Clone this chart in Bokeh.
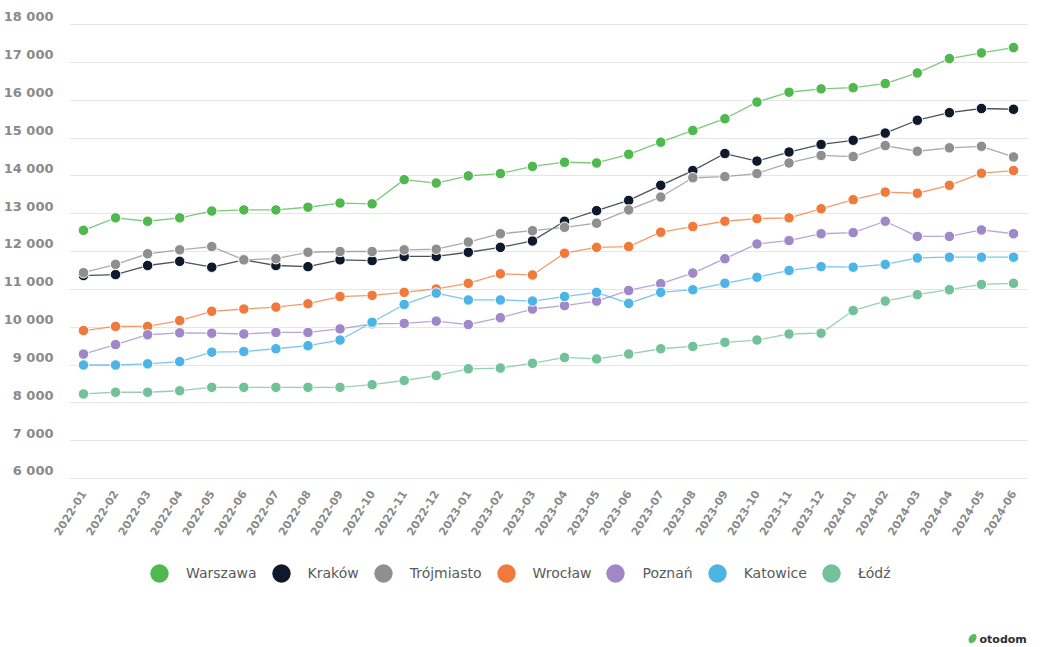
import math
from bokeh.plotting import figure
from bokeh.layouts import column
from bokeh.models import FixedTicker, Legend, LegendItem, Label, Range1d
from bokeh.embed import file_html
from bokeh.resources import INLINE

# ---------------- data ----------------
months = ["2022-01", "2022-02", "2022-03", "2022-04", "2022-05", "2022-06",
          "2022-07", "2022-08", "2022-09", "2022-10", "2022-11", "2022-12",
          "2023-01", "2023-02", "2023-03", "2023-04", "2023-05", "2023-06",
          "2023-07", "2023-08", "2023-09", "2023-10", "2023-11", "2023-12",
          "2024-01", "2024-02", "2024-03", "2024-04", "2024-05", "2024-06"]

warszawa = [12560, 12890, 12800, 12890, 13070, 13100, 13100, 13170, 13280, 13260,
            13900, 13810, 14000, 14060, 14250, 14360, 14340, 14570, 14890, 15200,
            15510, 15950, 16210, 16300, 16330, 16440, 16720, 17100, 17250, 17390]
krakow = [11365, 11390, 11630, 11740, 11585, 11780, 11630, 11600, 11780, 11760,
          11870, 11870, 11980, 12110, 12280, 12800, 13080, 13350, 13750, 14140,
          14590, 14390, 14630, 14830, 14940, 15130, 15470, 15670, 15780, 15760]
trojmiasto = [11440, 11660, 11940, 12045, 12130, 11780, 11810, 11980, 12000, 12000,
              12045, 12060, 12250, 12470, 12550, 12640, 12750, 13100, 13440, 13950,
              13980, 14060, 14340, 14540, 14510, 14800, 14650, 14740, 14780, 14500]
wroclaw = [9910, 10020, 10020, 10175, 10420, 10480, 10530, 10620, 10810, 10840,
           10920, 11010, 11160, 11410, 11380, 11955, 12110, 12130, 12510, 12660,
           12800, 12870, 12890, 13130, 13370, 13570, 13540, 13750, 14070, 14140]
poznan = [9290, 9540, 9800, 9850, 9840, 9820, 9860, 9860, 9955, 10090,
          10100, 10160, 10070, 10250, 10480, 10570, 10690, 10970, 11150, 11430,
          11810, 12200, 12290, 12470, 12500, 12800, 12400, 12400, 12570, 12470]
katowice = [9000, 9000, 9030, 9090, 9340, 9355, 9430, 9510, 9660, 10130,
            10600, 10900, 10720, 10720, 10690, 10810, 10920, 10630, 10920, 10990,
            11160, 11320, 11500, 11600, 11585, 11660, 11830, 11850, 11850, 11850]
lodz = [8235, 8280, 8280, 8320, 8410, 8410, 8410, 8410, 8410, 8480,
        8590, 8720, 8900, 8920, 9045, 9200, 9160, 9290, 9430, 9490,
        9600, 9660, 9820, 9840, 10440, 10690, 10860, 10990, 11130, 11160]

series_names = ["Warszawa", "Kraków", "Trójmiasto", "Wrocław", "Poznań", "Katowice", "Łódź"]
series_values = [warszawa, krakow, trojmiasto, wroclaw, poznan, katowice, lodz]
series_colors = ["#50b84f", "#0e1a2c", "#8f8f8f", "#f07a3c", "#a088c8", "#4db4e6", "#72c19a"]

y_tick_values = [6000, 7000, 8000, 9000, 10000, 11000, 12000, 13000,
                 14000, 15000, 16000, 17000, 18000]
y_tick_labels = ["6 000", "7 000", "8 000", "9 000", "10 000", "11 000", "12 000",
                 "13 000", "14 000", "15 000", "16 000", "17 000", "18 000"]
logo_text = "otodom"

# ---------------- main chart ----------------
FONT = "DejaVu Sans"
W = 1040
BL, BR = 68, 12
p = figure(width=W, height=555, output_backend="svg", toolbar_location=None,
           x_range=Range1d(-0.436, 29.467), y_range=Range1d(5947, 18265),
           min_border_left=BL, min_border_right=BR, min_border_top=14,
           min_border_bottom=75)
p.outline_line_color = None

xs = list(range(len(months)))
for name, vals, col in zip(series_names, series_values, series_colors):
    p.line(xs, vals, line_color=col, line_width=1.3, line_alpha=0.75)
    p.scatter(xs, vals, size=10.5, marker="circle", fill_color=col,
              line_color="white", line_width=1)

# y axis: labels sit slightly above their gridlines, as in the reference
label_pos = [v + 200 for v in y_tick_values]
p.yaxis.ticker = FixedTicker(ticks=label_pos)
p.yaxis.major_label_overrides = {t: s for t, s in zip(label_pos, y_tick_labels)}
p.ygrid.ticker = FixedTicker(ticks=y_tick_values)
p.ygrid.grid_line_color = "#e6e6e6"
p.ygrid.grid_line_width = 1
p.xgrid.grid_line_color = None

for ax in (p.xaxis, p.yaxis):
    ax.axis_line_color = None
    ax.major_tick_line_color = None
    ax.minor_tick_line_color = None
    ax.major_label_text_font = FONT
    ax.major_label_text_color = "#8a8a8a"
    ax.major_label_text_font_style = "bold"

p.yaxis.major_label_text_font_size = "13px"
p.yaxis.major_label_standoff = 10

p.xaxis.ticker = FixedTicker(ticks=xs)
p.xaxis.major_label_overrides = {i: m for i, m in enumerate(months)}
p.xaxis.major_label_orientation = 1.01
p.xaxis.major_label_text_font_size = "11px"
p.xaxis.major_label_standoff = 5

# ---------------- legend + logo strip ----------------
H2 = 92
FW = W - BL - BR  # frame width in px; x data units of this strip == px
q = figure(width=W, height=H2, output_backend="svg", toolbar_location=None,
           x_range=Range1d(0, FW), y_range=Range1d(0, H2),
           x_axis_location=None, y_axis_location=None,
           min_border_left=BL, min_border_right=BR, min_border_top=0, min_border_bottom=0)
q.outline_line_color = None
q.xgrid.visible = False
q.ygrid.visible = False

items = []
for name, col in zip(series_names, series_colors):
    # one off-screen point so that the legend swatch gets drawn
    r = q.scatter(x=[-500], y=[-500], size=19, marker="circle", fill_color=col,
                  line_color=None)
    items.append(LegendItem(label=name, renderers=[r]))
GL = 46  # legend swatch box; the marker is drawn at 40% of it
legend = Legend(items=items, orientation="horizontal",
                location=(158 - GL / 2 - BL, 92 - 18 - GL / 2),
                glyph_width=GL, glyph_height=GL, label_height=GL,
                label_standoff=4, spacing=1, padding=0, margin=0,
                border_line_color=None, background_fill_alpha=0,
                label_text_font=FONT, label_text_font_size="14px",
                label_text_color="#5a5a5a")
q.add_layout(legend)

# logo mark (small leaf) and wordmark
q.ellipse(x=[972 - BL], y=[9], width=7, height=10, angle=-0.6, fill_color="#5cb85c",
          line_color=None)
q.add_layout(Label(x=979 - BL, y=8, text=logo_text, text_font=FONT,
                   text_font_style="bold", text_font_size="11px",
                   text_color="#2e2e2e", text_baseline="middle"))

layout = column(p, q, spacing=0)
open("out.html", "w").write(file_html(layout, INLINE))
